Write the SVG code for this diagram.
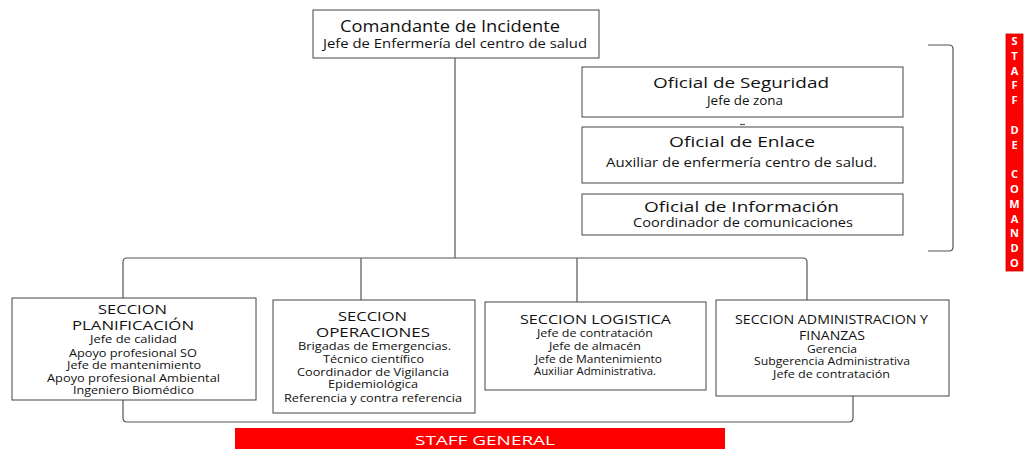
<svg xmlns="http://www.w3.org/2000/svg" width="1024" height="449" viewBox="0 0 1024 449">
<style>
.box{fill:#fff;stroke:#444;stroke-width:1}
.con{fill:none;stroke:#555;stroke-width:1.2}
text{font-family:"Open Sans","DejaVu Sans",sans-serif;fill:#111}
.t1{font-size:16px}
.t2{font-size:12.5px}
.s1{font-size:15px}
.s2{font-size:12px}
.h{font-size:12.5px}
.i{font-size:10px}
.w{fill:#fff}
.v{font-size:11px;font-weight:bold;fill:#fff;text-anchor:middle}
</style>
<rect width="1024" height="449" fill="#fff"/>
<g id="connectors">
<path class="con" d="M455,58 V258"/>
<path class="con" d="M123,298 V262 Q123,258 127,258 H803 Q807,258 807,262 V300"/>
<path class="con" d="M361,258 V300"/>
<path class="con" d="M577,258 V302"/>
<path class="con" d="M740,124.5 H745"/>
<path class="con" d="M928,45 H949 Q953,45 953,49 V247 Q953,251 949,251 H928"/>
<path class="con" d="M123,400 V418 Q123,422 127,422 H849 Q853,422 853,418 V396"/>
</g>
<g id="comandante">
<rect class="box" x="313" y="10" width="286" height="48"/>
<text class="t1" x="340" y="32" textLength="220" lengthAdjust="spacingAndGlyphs">Comandante de Incidente</text>
<text class="t2" x="323" y="48" textLength="264" lengthAdjust="spacingAndGlyphs">Jefe de Enfermería del centro de salud</text>
</g>
<g id="seguridad">
<rect class="box" x="582" y="67" width="321" height="50"/>
<text class="s1" x="653" y="88" textLength="176" lengthAdjust="spacingAndGlyphs">Oficial de Seguridad</text>
<text class="s2" x="707" y="105" textLength="76" lengthAdjust="spacingAndGlyphs">Jefe de zona</text>
</g>
<g id="enlace">
<rect class="box" x="582" y="127" width="321" height="56"/>
<text class="s1" x="669" y="147" textLength="146" lengthAdjust="spacingAndGlyphs">Oficial de Enlace</text>
<text class="s2" x="606" y="167" textLength="271" lengthAdjust="spacingAndGlyphs">Auxiliar de enfermería centro de salud.</text>
</g>
<g id="informacion">
<rect class="box" x="582" y="194" width="321" height="41"/>
<text class="s1" x="644" y="212" textLength="195" lengthAdjust="spacingAndGlyphs">Oficial de Información</text>
<text class="s2" x="633" y="227" textLength="220" lengthAdjust="spacingAndGlyphs">Coordinador de comunicaciones</text>
</g>
<g id="staff-comando">
<rect x="1006" y="34" width="17" height="237" fill="#f00" stroke="#c00" stroke-width="0.8"/>
<text class="v" x="1014.5" y="45">S</text>
<text class="v" x="1014.5" y="60">T</text>
<text class="v" x="1014.5" y="75">A</text>
<text class="v" x="1014.5" y="89">F</text>
<text class="v" x="1014.5" y="104">F</text>
<text class="v" x="1014.5" y="134">D</text>
<text class="v" x="1014.5" y="149">E</text>
<text class="v" x="1014.5" y="178">C</text>
<text class="v" x="1014.5" y="193">O</text>
<text class="v" x="1014.5" y="208">M</text>
<text class="v" x="1014.5" y="223">A</text>
<text class="v" x="1014.5" y="237">N</text>
<text class="v" x="1014.5" y="252">D</text>
<text class="v" x="1014.5" y="267">O</text>
</g>
<g id="planificacion">
<rect class="box" x="12" y="298" width="244" height="102"/>
<text class="h" x="98" y="314" textLength="69" lengthAdjust="spacingAndGlyphs">SECCION</text>
<text class="h" x="72" y="330" textLength="122" lengthAdjust="spacingAndGlyphs">PLANIFICACIÓN</text>
<text class="i" x="90" y="343" textLength="87" lengthAdjust="spacingAndGlyphs">Jefe de calidad</text>
<text class="i" x="69" y="357" textLength="128" lengthAdjust="spacingAndGlyphs">Apoyo profesional SO</text>
<text class="i" x="67" y="369" textLength="134" lengthAdjust="spacingAndGlyphs">Jefe de mantenimiento</text>
<text class="i" x="47" y="382" textLength="173" lengthAdjust="spacingAndGlyphs">Apoyo profesional Ambiental</text>
<text class="i" x="73" y="394" textLength="121" lengthAdjust="spacingAndGlyphs">Ingeniero Biomédico</text>
</g>
<g id="operaciones">
<rect class="box" x="273" y="300" width="202" height="113"/>
<text class="h" x="338" y="321" textLength="69" lengthAdjust="spacingAndGlyphs">SECCION</text>
<text class="h" x="316" y="337" textLength="114" lengthAdjust="spacingAndGlyphs">OPERACIONES</text>
<text class="i" x="298" y="350" textLength="153" lengthAdjust="spacingAndGlyphs">Brigadas de Emergencias.</text>
<text class="i" x="323" y="363" textLength="101" lengthAdjust="spacingAndGlyphs">Técnico científico</text>
<text class="i" x="297" y="376" textLength="152" lengthAdjust="spacingAndGlyphs">Coordinador de Vigilancia</text>
<text class="i" x="328" y="388" textLength="90" lengthAdjust="spacingAndGlyphs">Epidemiológica</text>
<text class="i" x="284" y="402" textLength="178" lengthAdjust="spacingAndGlyphs">Referencia y contra referencia</text>
</g>
<g id="logistica">
<rect class="box" x="485" y="302" width="221" height="88"/>
<text class="h" x="520" y="324" textLength="151" lengthAdjust="spacingAndGlyphs">SECCION LOGISTICA</text>
<text class="i" x="537" y="337" textLength="116" lengthAdjust="spacingAndGlyphs">Jefe de contratación</text>
<text class="i" x="549" y="350" textLength="92" lengthAdjust="spacingAndGlyphs">Jefe de almacén</text>
<text class="i" x="535" y="363" textLength="127" lengthAdjust="spacingAndGlyphs">Jefe de Mantenimiento</text>
<text class="i" x="534" y="375" textLength="122" lengthAdjust="spacingAndGlyphs">Auxiliar Administrativa.</text>
</g>
<g id="administracion">
<rect class="box" x="716" y="300" width="233" height="96"/>
<text class="h" x="735" y="324" textLength="193" lengthAdjust="spacingAndGlyphs">SECCION ADMINISTRACION Y</text>
<text class="h" x="799" y="340" textLength="66" lengthAdjust="spacingAndGlyphs">FINANZAS</text>
<text class="i" x="807" y="353" textLength="50" lengthAdjust="spacingAndGlyphs">Gerencia</text>
<text class="i" x="754" y="365" textLength="156" lengthAdjust="spacingAndGlyphs">Subgerencia Administrativa</text>
<text class="i" x="773" y="378" textLength="117" lengthAdjust="spacingAndGlyphs">Jefe de contratación</text>
</g>
<g id="staff-general">
<rect x="235" y="428" width="490" height="21" fill="#f00"/>
<text class="h w" x="415" y="445" textLength="140" lengthAdjust="spacingAndGlyphs">STAFF GENERAL</text>
</g>
</svg>
